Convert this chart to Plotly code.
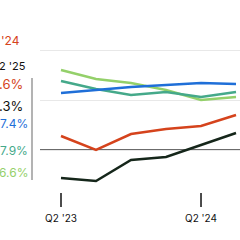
import plotly.graph_objects as go

quarters = ["Q2 '23", "Q3 '23", "Q4 '23", "Q1 '24", "Q2 '24", "Q3 '24"]
x_idx = list(range(len(quarters)))

series_black = [4.88, 4.76, 5.60, 5.72, 6.20, 6.68]
series_orange = [6.56, 6.00, 6.64, 6.84, 6.96, 7.40]
series_blue = [8.28, 8.40, 8.52, 8.60, 8.68, 8.64]
series_teal = [8.76, 8.44, 8.20, 8.32, 8.12, 8.32]
series_green = [9.20, 8.84, 8.68, 8.40, 8.00, 8.12]

tick_idx = [0, 4]
tick_labels = ["Q2 '23", "Q2 '24"]
reference_value = 6

COLORS = {
    "black": "#15261a",
    "orange": "#d5431c",
    "blue": "#1f6fd8",
    "teal": "#45a98a",
    "green": "#94d06a",
}

fig = go.Figure()
for name, vals in [("green", series_green), ("teal", series_teal), ("blue", series_blue),
                   ("orange", series_orange), ("black", series_black)]:
    fig.add_trace(go.Scatter(x=x_idx, y=vals, mode="lines",
                             line=dict(color=COLORS[name], width=2.5),
                             showlegend=False, hoverinfo="skip"))

# reference line
fig.add_shape(type="line", xref="paper", x0=0, x1=1, yref="y", y0=reference_value, y1=reference_value,
              line=dict(color="#6b6b6b", width=2), layer="below")
# left vertical bar
fig.add_shape(type="line", xref="paper", x0=-0.04, x1=-0.04, yref="paper", y0=0.1, y1=0.61,
              line=dict(color="#9a9a9a", width=1.5))
# tick marks
for t in tick_idx:
    fig.add_shape(type="line", xref="x", x0=t, x1=t, yref="paper", y0=0.035, y1=-0.035,
                  line=dict(color="#111111", width=1.5))

labels = [
    ("'24", -0.09, 0.795, COLORS["orange"], 12),
    ("2 '25", -0.06, 0.67, "#111111", 11),
    (".6%", -0.075, 0.58, COLORS["orange"], 13),
    (".3%", -0.075, 0.47, "#111111", 13),
    ("7.4%", -0.05, 0.385, COLORS["blue"], 12),
    ("7.9%", -0.05, 0.25, COLORS["teal"], 12),
    ("6.6%", -0.05, 0.14, COLORS["green"], 12),
]
for txt, xp, yp, col, sz in labels:
    fig.add_annotation(text=txt, xref="paper", yref="paper", x=xp, y=yp,
                       xanchor="right", yanchor="middle", showarrow=False,
                       font=dict(color=col, size=sz, family="Inter"))

fig.update_layout(
    width=240, height=240,
    margin=dict(l=40, r=0, t=0, b=40),
    paper_bgcolor="white", plot_bgcolor="white",
    font=dict(family="Inter", color="#111111"),
    xaxis=dict(range=[-0.6, 5.114], tickvals=tick_idx, ticktext=tick_labels, ticks="",
               showgrid=False, zeroline=False, showline=False,
               tickfont=dict(size=10, color="#111111"), ticklabelstandoff=11),
    yaxis=dict(range=[4, 12], tickvals=[4, 6, 8, 10], showticklabels=False, ticks="",
               showgrid=True, gridcolor="#e8e8e8", gridwidth=1, zeroline=False, showline=False),
)

fig.write_html("out.html")
